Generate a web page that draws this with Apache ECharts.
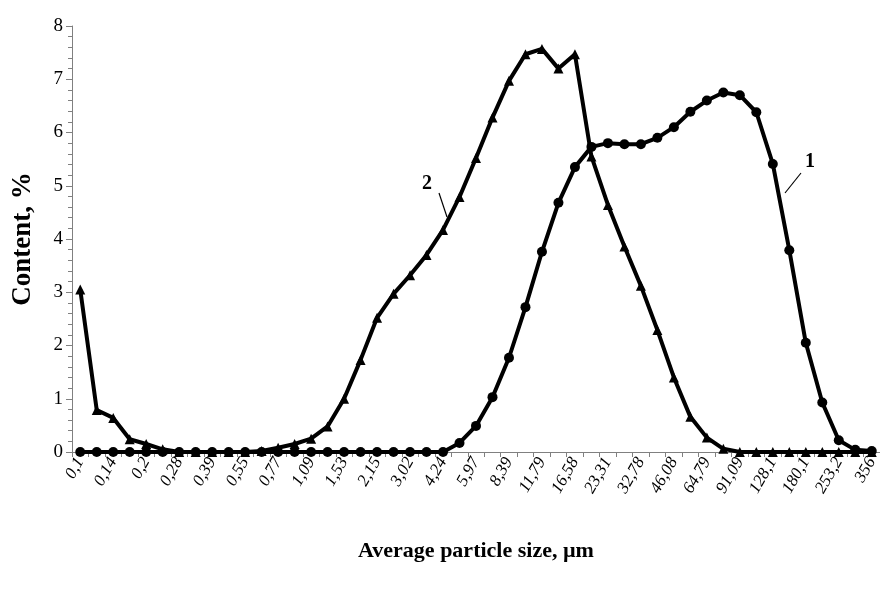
<!doctype html>
<html lang="en">
<head>
    <meta charset="UTF-8">
    <title>Content vs average particle size</title>
    <script src="https://cdn.jsdelivr.net/npm/echarts@6.0.0/dist/echarts.min.js"></script>
    <style>
        html, body { margin: 0; padding: 0; background: #fff; }
        #chart { width: 880px; height: 592px; }
    </style>
</head>
<body>
<div id="chart"></div>

<script type="text/javascript">
/* 1. data */
/* x tick labels, one label on every second size class */
let tickLabels = ['0,1', '0,14', '0,2', '0,28', '0,39', '0,55', '0,77', '1,09', '1,53', '2,15', '3,02', '4,24',
    '5,97', '8,39', '11,79', '16,58', '23,31', '32,78', '46,08', '64,79', '91,09', '128,1', '180,1', '253,2', '356'];

/* size classes (index) */
let sizeClasses = [];
for (let i = 0; i < 49; i++) sizeClasses.push(String(i));

/* curve 1 (circles) */
let curve1 = [0, 0, 0, 0, 0, 0, 0, 0, 0, 0, 0, 0, 0, 0, 0, 0, 0, 0, 0, 0, 0, 0, 0,
    0.17, 0.49, 1.03, 1.77, 2.72, 3.76, 4.68, 5.35, 5.73, 5.8, 5.78, 5.78, 5.9, 6.1, 6.39,
    6.6, 6.75, 6.7, 6.38, 5.41, 3.79, 2.05, 0.93, 0.22, 0.04, 0.02];

/* curve 2 (triangles) */
let curve2 = [3.05, 0.79, 0.64, 0.24, 0.15, 0.05, 0, 0, 0, 0, 0, 0.02, 0.08, 0.15, 0.25, 0.48,
    1.0, 1.73, 2.52, 2.97, 3.32, 3.7, 4.17, 4.79, 5.52, 6.28, 6.97, 7.47, 7.57, 7.2, 7.47,
    5.55, 4.64, 3.86, 3.12, 2.29, 1.4, 0.66, 0.27, 0.06, 0, 0, 0, 0, 0, 0, 0, 0, 0];

/* 2. chart */
let chart = echarts.init(document.getElementById('chart'), null, {renderer: 'canvas'});

let serif = "'Liberation Serif', 'Times New Roman', serif";

let option = {
    animation: false,
    backgroundColor: '#fff',
    grid: {
        left: 72,
        right: 0,
        top: 26,
        bottom: 140,
        containLabel: false,
        outerBoundsMode: 'none'
    },
    xAxis: {
        type: 'category',
        data: sizeClasses,
        boundaryGap: true,
        name: 'Average particle size, µm',
        nameLocation: 'middle',
        nameGap: 88,
        nameTextStyle: {fontFamily: serif, fontWeight: 'bold', fontSize: 22, color: '#000'},
        axisLine: {lineStyle: {color: '#808080', width: 1}},
        axisTick: {show: true, interval: 0, length: 5, lineStyle: {color: '#808080'}},
        axisLabel: {
            interval: 1,
            rotate: 60,
            margin: 7,
            hideOverlap: false,
            fontFamily: serif,
            fontStyle: 'italic',
            fontSize: 17,
            color: '#000',
            formatter: function (value, index) {
                return index % 2 === 0 ? tickLabels[index / 2] : '';
            }
        },
        splitLine: {show: false}
    },
    yAxis: {
        type: 'value',
        min: 0,
        max: 8,
        interval: 1,
        name: 'Content, %',
        nameLocation: 'middle',
        nameGap: 35,
        nameRotate: 90,
        nameTextStyle: {fontFamily: serif, fontWeight: 'bold', fontSize: 27, color: '#000'},
        axisLine: {show: true, lineStyle: {color: '#808080', width: 1}},
        axisTick: {show: true, length: 6, lineStyle: {color: '#808080'}},
        minorTick: {show: true, splitNumber: 5, length: 4, lineStyle: {color: '#808080'}},
        axisLabel: {fontFamily: serif, fontSize: 19, color: '#000', margin: 9},
        splitLine: {show: false}
    },
    series: [
        {
            name: '1',
            type: 'line',
            data: curve1,
            symbol: 'circle',
            symbolSize: 10,
            showAllSymbol: true,
            lineStyle: {color: '#000', width: 4},
            itemStyle: {color: '#000'}
        }, {
            name: '2',
            type: 'line',
            data: curve2,
            symbol: 'triangle',
            symbolSize: 10,
            showAllSymbol: true,
            lineStyle: {color: '#000', width: 4},
            itemStyle: {color: '#000'}
        }
    ],
    /* curve numbers with leader lines */
    graphic: [
        {type: 'text', left: 422, top: 174, style: {text: '2', font: "bold 20px 'Liberation Serif'", fill: '#000'}},
        {type: 'line', shape: {x1: 439, y1: 193, x2: 447, y2: 217}, style: {stroke: '#000', lineWidth: 1.2}},
        {type: 'text', left: 805, top: 152, style: {text: '1', font: "bold 20px 'Liberation Serif'", fill: '#000'}},
        {type: 'line', shape: {x1: 801, y1: 173, x2: 785, y2: 193}, style: {stroke: '#000', lineWidth: 1.2}}
    ]
};
chart.setOption(option);
</script>
</body>
</html>
